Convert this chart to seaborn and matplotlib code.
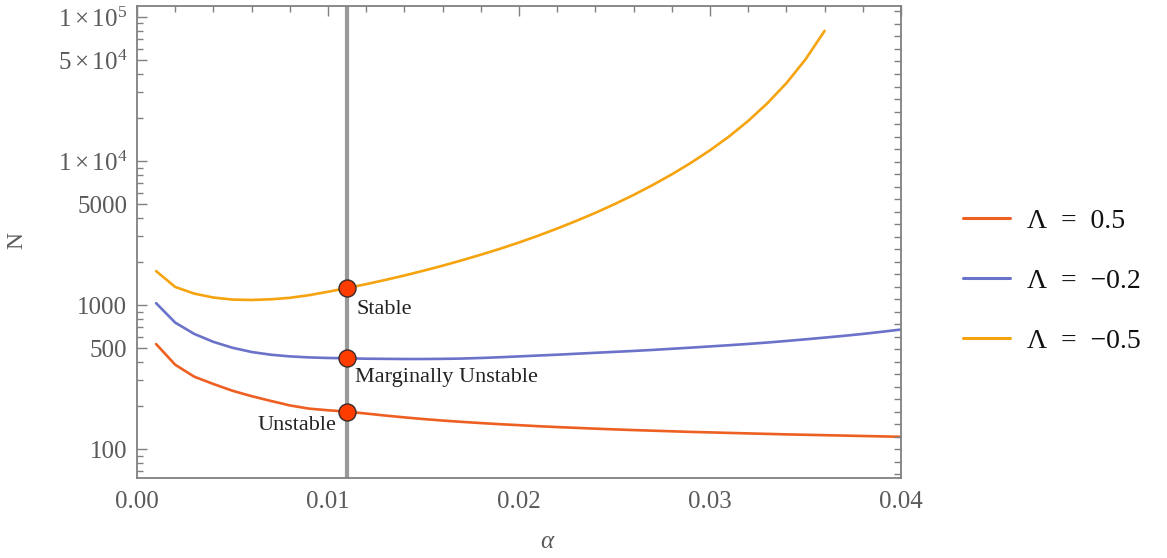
import numpy as np
import pandas as pd
import matplotlib
matplotlib.use("Agg")
import matplotlib.pyplot as plt
import matplotlib.ticker as mticker
from matplotlib.lines import Line2D
import seaborn as sns

# ---------------- data ----------------
alpha = [0.001, 0.002, 0.003, 0.004, 0.005, 0.006, 0.007, 0.008, 0.009, 0.010,
         0.011, 0.012, 0.013, 0.014, 0.015, 0.016, 0.017, 0.018, 0.019, 0.020,
         0.021, 0.022, 0.023, 0.024, 0.025, 0.026, 0.027, 0.028, 0.029, 0.030,
         0.031, 0.032, 0.033, 0.034, 0.035, 0.036, 0.037, 0.038, 0.039, 0.040]

N_lam_p05 = [536, 385, 318, 283, 254, 233, 216, 201, 191, 186,
             182, 176.5, 170.9, 166.0, 161.6, 157.8, 154.5, 151.6, 148.9, 146.6,
             144.2, 142.2, 140.4, 138.6, 137.0, 135.5, 134.2, 132.9, 131.6, 130.6,
             129.5, 128.5, 127.5, 126.5, 125.7, 124.9, 124.1, 123.3, 122.5, 121.7]

N_lam_m02 = [1030, 755, 630, 555, 505, 472, 452, 440, 433, 429,
             427, 424, 423, 422, 422, 423, 425, 429, 434, 440,
             446, 452, 459, 466, 473, 480, 488, 497, 506, 516,
             526, 537, 549, 563, 578, 594, 611, 630, 652, 676]

N_lam_m05 = [1720, 1335, 1200, 1127, 1091, 1084, 1096, 1122, 1170, 1236,
             1313, 1396, 1493, 1603, 1730, 1875, 2042, 2234, 2455, 2716,
             3027, 3396, 3837, 4365, 5012, 5808, 6808, 8072, 9705, 11858,
             14791, 18967, 25119, 34674, 50699, 79983]

labels = ["\u039b\u2002=\u20020.5", "\u039b\u2002=\u2002\u22120.2", "\u039b\u2002=\u2002\u22120.5"]
colors = ["#EE5F22", "#6A72C9", "#F5A30F"]

alpha_marker = 0.011
point_labels = ["Unstable", "Marginally Unstable", "Stable"]

ytick_vals = [100, 500, 1000, 5000, 10000, 50000, 100000]
ytick_labels = ["100", "500", "1000", "5000",
                r"$1\times10^{4}$", r"$5\times10^{4}$", r"$1\times10^{5}$"]
xtick_vals = [0.00, 0.01, 0.02, 0.03, 0.04]
xtick_labels = ["0.00", "0.01", "0.02", "0.03", "0.04"]

# ---------------- dataframe ----------------
frames = []
for lab, vals in zip(labels, [N_lam_p05, N_lam_m02, N_lam_m05]):
    frames.append(pd.DataFrame({"alpha": alpha[:len(vals)], "N": vals, "Lambda": lab}))
df = pd.concat(frames, ignore_index=True)

# ---------------- style ----------------
sns.set_theme(style="white")
plt.rcParams["font.family"] = ["Liberation Serif", "DejaVu Serif"]
plt.rcParams["mathtext.fontset"] = "custom"
plt.rcParams["mathtext.rm"] = "Liberation Serif"
plt.rcParams["mathtext.it"] = "Liberation Serif:italic"

tick_color = "#5a5a5a"
frame_color = "#808080"

fig = plt.figure(figsize=(11.67, 5.58), dpi=100)
ax = fig.add_axes([137 / 1167, 1 - 478 / 558, (901 - 137) / 1167, (478 - 6) / 558])

# vertical marker line
ax.axvline(alpha_marker, color="#999999", lw=3.0, zorder=1)

sns.lineplot(data=df, x="alpha", y="N", hue="Lambda", palette=dict(zip(labels, colors)),
             hue_order=labels, lw=1.9, ax=ax, legend=False, zorder=2, sort=True)

ax.set_yscale("log")
ax.set_xlim(0, 0.04)
ax.set_ylim(63, 119000)

# markers at alpha_marker
idx = alpha.index(alpha_marker)
marker_vals = [N_lam_p05[idx], N_lam_m02[idx], N_lam_m05[idx]]
ax.scatter([alpha_marker] * 3, marker_vals, s=150, color="#FF3C00",
           edgecolor="#3a2a2a", linewidth=1.0, zorder=5)

# annotations
ann_fs = 16
ax.annotate(point_labels[2], (alpha_marker, marker_vals[2]), xytext=(7, -9),
            textcoords="offset points", ha="left", va="top", fontsize=ann_fs, color="#222222")
ax.annotate(point_labels[1], (alpha_marker, marker_vals[1]), xytext=(6, -7),
            textcoords="offset points", ha="left", va="top", fontsize=ann_fs, color="#222222")
ax.annotate(point_labels[0], (alpha_marker, marker_vals[0]), xytext=(-8, -3),
            textcoords="offset points", ha="right", va="top", fontsize=ann_fs, color="#222222")

# ticks
ax.set_yticks(ytick_vals)
ax.set_yticklabels(ytick_labels)
ax.yaxis.set_minor_locator(mticker.LogLocator(base=10, subs=np.arange(2, 10), numticks=20))
ax.yaxis.set_minor_formatter(mticker.NullFormatter())
ax.set_xticks(xtick_vals)
ax.set_xticklabels(xtick_labels)
ax.xaxis.set_minor_locator(mticker.MultipleLocator(0.002))

ax.tick_params(axis="both", which="major", direction="in", length=7, width=1.0,
               color=frame_color, labelcolor=tick_color, labelsize=18, pad=7)
ax.tick_params(axis="both", which="minor", direction="in", length=4, width=1.0,
               color=frame_color)
ax.tick_params(axis="x", which="both", top=True, labeltop=False)
ax.tick_params(axis="x", which="major", pad=9)

# right-hand evenly spaced ticks (natural log scale)
ax2 = ax.twinx()
lo, hi = ax.get_ylim()
ax2.set_ylim(np.log(lo), np.log(hi))
ax2.yaxis.set_major_locator(mticker.MultipleLocator(0.2))
ax2.tick_params(axis="y", which="major", direction="in", length=5, width=1.0,
                color=frame_color, labelright=False)
ax2.grid(False)
for sp in ax2.spines.values():
    sp.set_visible(False)

for sp in ax.spines.values():
    sp.set_color(frame_color)
    sp.set_linewidth(1.3)
ax.grid(False)

ax.set_xlabel(r"$\alpha$", fontsize=18, color=tick_color)
ax.xaxis.set_label_coords(0.538, -0.113)
ax.set_ylabel("N", fontsize=17, color=tick_color)
ax.yaxis.set_label_coords(-0.143, 0.504)

# legend
handles = [Line2D([0], [0], color=c, lw=2.2) for c in colors]
fig.legend(handles, labels, loc="center left", bbox_to_anchor=(938 / 1167, 1 - 281 / 558),
           frameon=False, fontsize=20, handlelength=1.7, handletextpad=0.6,
           labelspacing=1.25, labelcolor="#111111")

fig.savefig("out.png", dpi=100)
